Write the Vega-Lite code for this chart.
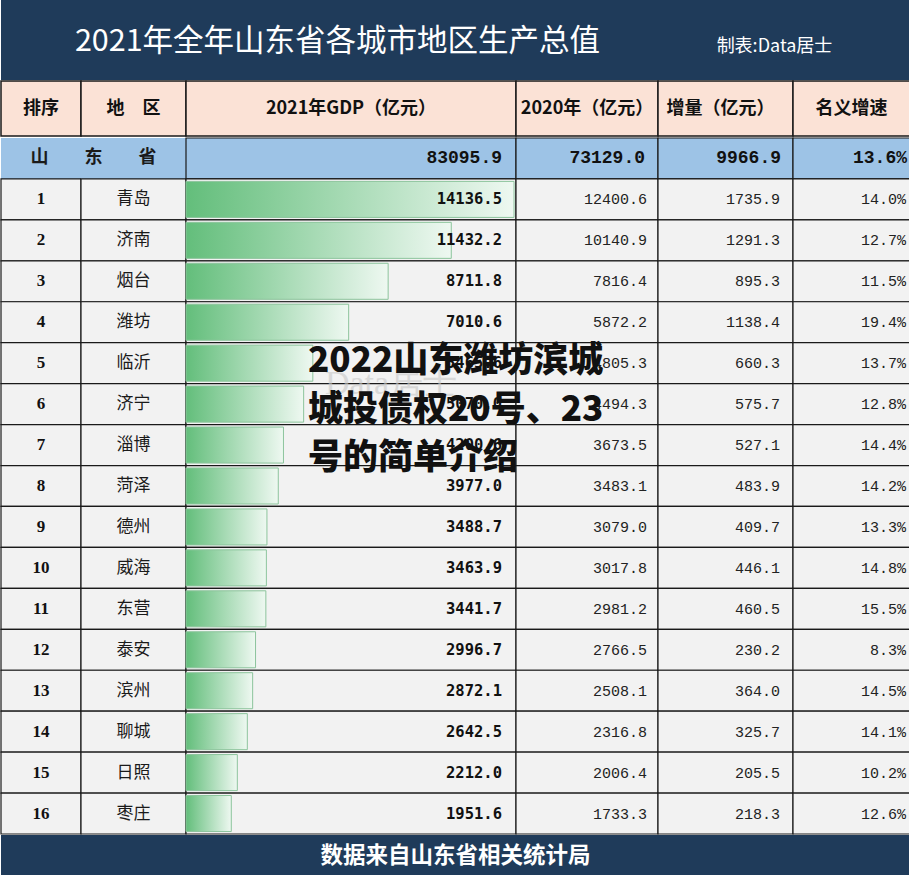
{
  "$schema": "https://vega.github.io/schema/vega-lite/v6.json",
  "background": "#ffffff",
  "padding": 0,
  "spacing": 0,
  "config": {"view": {"stroke": null}, "concat": {"spacing": 0}, "font": "Noto Sans CJK SC"},
  "datasets": {
    "gdp": [
      {"rank": 0, "name": "山东省", "gdp2021": 83095.9, "gdp2020": 73129.0, "inc": 9966.9, "growth": 0.136},
      {"rank": 1, "name": "青岛", "gdp2021": 14136.5, "gdp2020": 12400.6, "inc": 1735.9, "growth": 0.140},
      {"rank": 2, "name": "济南", "gdp2021": 11432.2, "gdp2020": 10140.9, "inc": 1291.3, "growth": 0.127},
      {"rank": 3, "name": "烟台", "gdp2021": 8711.8, "gdp2020": 7816.4, "inc": 895.3, "growth": 0.115},
      {"rank": 4, "name": "潍坊", "gdp2021": 7010.6, "gdp2020": 5872.2, "inc": 1138.4, "growth": 0.194},
      {"rank": 5, "name": "临沂", "gdp2021": 5465.6, "gdp2020": 4805.3, "inc": 660.3, "growth": 0.137},
      {"rank": 6, "name": "济宁", "gdp2021": 5070.0, "gdp2020": 4494.3, "inc": 575.7, "growth": 0.128},
      {"rank": 7, "name": "淄博", "gdp2021": 4200.6, "gdp2020": 3673.5, "inc": 527.1, "growth": 0.144},
      {"rank": 8, "name": "菏泽", "gdp2021": 3977.0, "gdp2020": 3483.1, "inc": 483.9, "growth": 0.142},
      {"rank": 9, "name": "德州", "gdp2021": 3488.7, "gdp2020": 3079.0, "inc": 409.7, "growth": 0.133},
      {"rank": 10, "name": "威海", "gdp2021": 3463.9, "gdp2020": 3017.8, "inc": 446.1, "growth": 0.148},
      {"rank": 11, "name": "东营", "gdp2021": 3441.7, "gdp2020": 2981.2, "inc": 460.5, "growth": 0.155},
      {"rank": 12, "name": "泰安", "gdp2021": 2996.7, "gdp2020": 2766.5, "inc": 230.2, "growth": 0.083},
      {"rank": 13, "name": "滨州", "gdp2021": 2872.1, "gdp2020": 2508.1, "inc": 364.0, "growth": 0.145},
      {"rank": 14, "name": "聊城", "gdp2021": 2642.5, "gdp2020": 2316.8, "inc": 325.7, "growth": 0.141},
      {"rank": 15, "name": "日照", "gdp2021": 2212.0, "gdp2020": 2006.4, "inc": 205.5, "growth": 0.102},
      {"rank": 16, "name": "枣庄", "gdp2021": 1951.6, "gdp2020": 1733.3, "inc": 218.3, "growth": 0.126}
    ]
  },
  "vconcat": [
    {
      "width": 909, "height": 80,
      "view": {"fill": "#1f3b5a", "stroke": null},
      "data": {"values": [{"title": "2021年全年山东省各城市地区生产总值", "maker": "制表:Data居士"}]},
      "layer": [
        {"mark": {"type": "text", "color": "#ffffff", "font": "Noto Sans CJK SC", "fontSize": 30.5, "dx": -118, "dy": 2}, "encoding": {"text": {"field": "title"}}},
        {"mark": {"type": "text", "color": "#ffffff", "font": "Noto Sans CJK SC", "fontSize": 18, "dx": 319, "dy": 7}, "encoding": {"text": {"field": "maker"}}}
      ]
    },
    {
      "hconcat": [
        {"width": 80, "height": 55, "view": {"fill": "#fbe2d6", "stroke": "#1a1a1a", "strokeWidth": 1.5}, "data": {"values": [{"h": "排序"}]}, "mark": {"type": "text", "fontWeight": "bold", "fontSize": 18, "color": "#111111"}, "encoding": {"text": {"field": "h"}}},
        {"width": 105, "height": 55, "view": {"fill": "#fbe2d6", "stroke": "#1a1a1a", "strokeWidth": 1.5}, "data": {"values": [{"h": "地　区"}]}, "mark": {"type": "text", "fontWeight": "bold", "fontSize": 18, "color": "#111111"}, "encoding": {"text": {"field": "h"}}},
        {"width": 330, "height": 55, "view": {"fill": "#fbe2d6", "stroke": "#1a1a1a", "strokeWidth": 1.5}, "data": {"values": [{"h": "2021年GDP（亿元）"}]}, "mark": {"type": "text", "fontWeight": "bold", "fontSize": 18, "color": "#111111"}, "encoding": {"text": {"field": "h"}}},
        {"width": 142, "height": 55, "view": {"fill": "#fbe2d6", "stroke": "#1a1a1a", "strokeWidth": 1.5}, "data": {"values": [{"h": "2020年（亿元）"}]}, "mark": {"type": "text", "fontWeight": "bold", "fontSize": 18, "color": "#111111"}, "encoding": {"text": {"field": "h"}}},
        {"width": 135, "height": 55, "view": {"fill": "#fbe2d6", "stroke": "#1a1a1a", "strokeWidth": 1.5}, "data": {"values": [{"h": "增量（亿元）"}]}, "mark": {"type": "text", "fontWeight": "bold", "fontSize": 18, "color": "#111111", "dx": -5}, "encoding": {"text": {"field": "h"}}},
        {"width": 117, "height": 55, "view": {"fill": "#fbe2d6", "stroke": "#1a1a1a", "strokeWidth": 1.5}, "data": {"values": [{"h": "名义增速"}]}, "mark": {"type": "text", "fontWeight": "bold", "fontSize": 18, "color": "#111111"}, "encoding": {"text": {"field": "h"}}}
      ],
      "spacing": 0,
      "bounds": "flush"
    },
    {
      "hconcat": [
        {
          "width": 80, "height": 696,
          "data": {"name": "gdp"},
          "layer": [
            {"mark": {"type": "rect", "stroke": "#1a1a1a", "strokeWidth": 1.2},
             "encoding": {"y": {"field": "rank", "type": "ordinal", "axis": null, "scale": {"paddingInner": 0, "paddingOuter": 0}},
                          "fill": {"condition": {"test": "datum.rank == 0", "value": "#9dc3e6"}, "value": "#f2f2f2"},
                          "strokeOpacity": {"condition": {"test": "datum.rank == 0", "value": 0}, "value": 1}}},
            {"transform": [{"filter": "datum.rank > 0"}],
             "mark": {"type": "text", "font": "Liberation Serif", "fontWeight": "bold", "fontSize": 17, "color": "#111111"},
             "encoding": {"y": {"field": "rank", "type": "ordinal", "axis": null}, "text": {"field": "rank"}}}
          ]
        },
        {
          "width": 105, "height": 696,
          "data": {"name": "gdp"},
          "layer": [
            {"mark": {"type": "rect", "stroke": "#1a1a1a", "strokeWidth": 1.2},
             "encoding": {"y": {"field": "rank", "type": "ordinal", "axis": null, "scale": {"paddingInner": 0, "paddingOuter": 0}},
                          "fill": {"condition": {"test": "datum.rank == 0", "value": "#9dc3e6"}, "value": "#f2f2f2"},
                          "strokeOpacity": {"condition": {"test": "datum.rank == 0", "value": 0}, "value": 1}}},
            {"transform": [{"filter": "datum.rank > 0"}],
             "mark": {"type": "text", "font": "Noto Sans CJK SC", "fontSize": 17, "color": "#1a1a1a"},
             "encoding": {"y": {"field": "rank", "type": "ordinal", "axis": null}, "text": {"field": "name"}}},
            {"transform": [{"filter": "datum.rank == 0"}],
             "mark": {"type": "text", "text": "山　　东　　省", "font": "Noto Sans CJK SC", "fontWeight": "bold", "fontSize": 18, "color": "#1a1a1a", "dx": -40},
             "encoding": {"y": {"field": "rank", "type": "ordinal", "axis": null}}}
          ]
        },
        {
          "width": 330, "height": 696,
          "data": {"name": "gdp"},
          "layer": [
            {"mark": {"type": "rect", "stroke": "#1a1a1a", "strokeWidth": 1.2},
             "encoding": {"y": {"field": "rank", "type": "ordinal", "axis": null, "scale": {"paddingInner": 0, "paddingOuter": 0}},
                          "fill": {"condition": {"test": "datum.rank == 0", "value": "#9dc3e6"}, "value": "#f2f2f2"}}},
            {"transform": [{"filter": "datum.rank > 0"}],
             "mark": {"type": "bar", "orient": "horizontal", "height": {"band": 0.88},
                      "fill": {"gradient": "linear", "x1": 0, "y1": 0, "x2": 1, "y2": 0, "stops": [{"offset": 0, "color": "#63be7b"}, {"offset": 1, "color": "#eef8f1"}]},
                      "stroke": "#8cc49c", "strokeWidth": 1},
             "encoding": {"y": {"field": "rank", "type": "ordinal", "axis": null},
                          "x": {"field": "gdp2021", "type": "quantitative", "axis": null, "scale": {"domain": [0, 14222], "nice": false, "zero": true}}}},
            {"transform": [{"filter": "datum.rank > 0"}],
             "mark": {"type": "text", "align": "right", "x": "width", "dx": -14, "font": "DejaVu Sans Mono", "fontWeight": "bold", "fontSize": 15.5, "color": "#111111"},
             "encoding": {"y": {"field": "rank", "type": "ordinal", "axis": null}, "text": {"field": "gdp2021", "format": ".1f"}}},
            {"transform": [{"filter": "datum.rank == 0"}],
             "mark": {"type": "text", "align": "right", "x": "width", "dx": -14, "font": "Liberation Mono", "fontWeight": "bold", "fontSize": 18, "color": "#111111"},
             "encoding": {"y": {"field": "rank", "type": "ordinal", "axis": null}, "text": {"field": "gdp2021", "format": ".1f"}}}
          ]
        },
        {
          "width": 142, "height": 696,
          "data": {"name": "gdp"},
          "layer": [
            {"mark": {"type": "rect", "stroke": "#1a1a1a", "strokeWidth": 1.2},
             "encoding": {"y": {"field": "rank", "type": "ordinal", "axis": null, "scale": {"paddingInner": 0, "paddingOuter": 0}},
                          "fill": {"condition": {"test": "datum.rank == 0", "value": "#9dc3e6"}, "value": "#f2f2f2"}}},
            {"transform": [{"filter": "datum.rank > 0"}],
             "mark": {"type": "text", "align": "right", "x": "width", "dx": -11, "font": "Liberation Mono", "fontSize": 15, "color": "#222222"},
             "encoding": {"y": {"field": "rank", "type": "ordinal", "axis": null}, "text": {"field": "gdp2020", "format": ".1f"}}},
            {"transform": [{"filter": "datum.rank == 0"}],
             "mark": {"type": "text", "align": "right", "x": "width", "dx": -13, "font": "Liberation Mono", "fontWeight": "bold", "fontSize": 18, "color": "#111111"},
             "encoding": {"y": {"field": "rank", "type": "ordinal", "axis": null}, "text": {"field": "gdp2020", "format": ".1f"}}},
            {"data": {"values": [{"mark": "Data居士"}]},
             "mark": {"type": "text", "font": "Liberation Serif", "fontSize": 34, "color": "#c8c8c8", "opacity": 0.6, "x": -125, "y": 246},
             "encoding": {"text": {"field": "mark"}}},
            {"data": {"values": [{"lines": ["2022山东潍坊滨城", "城投债权20号、23", "号的简单介绍"]}]},
             "mark": {"type": "text", "align": "left", "baseline": "middle", "lineHeight": 48.5, "font": "Noto Sans CJK SC", "fontWeight": 900, "fontSize": 35, "color": "#111111", "x": -208, "y": 223},
             "encoding": {"text": {"field": "lines"}}}
          ]
        },
        {
          "width": 135, "height": 696,
          "data": {"name": "gdp"},
          "layer": [
            {"mark": {"type": "rect", "stroke": "#1a1a1a", "strokeWidth": 1.2},
             "encoding": {"y": {"field": "rank", "type": "ordinal", "axis": null, "scale": {"paddingInner": 0, "paddingOuter": 0}},
                          "fill": {"condition": {"test": "datum.rank == 0", "value": "#9dc3e6"}, "value": "#f2f2f2"}}},
            {"transform": [{"filter": "datum.rank > 0"}],
             "mark": {"type": "text", "align": "right", "x": "width", "dx": -13, "font": "Liberation Mono", "fontSize": 15, "color": "#222222"},
             "encoding": {"y": {"field": "rank", "type": "ordinal", "axis": null}, "text": {"field": "inc", "format": ".1f"}}},
            {"transform": [{"filter": "datum.rank == 0"}],
             "mark": {"type": "text", "align": "right", "x": "width", "dx": -12, "font": "Liberation Mono", "fontWeight": "bold", "fontSize": 18, "color": "#111111"},
             "encoding": {"y": {"field": "rank", "type": "ordinal", "axis": null}, "text": {"field": "inc", "format": ".1f"}}}
          ]
        },
        {
          "width": 117, "height": 696,
          "data": {"name": "gdp"},
          "layer": [
            {"mark": {"type": "rect", "stroke": "#1a1a1a", "strokeWidth": 1.2},
             "encoding": {"y": {"field": "rank", "type": "ordinal", "axis": null, "scale": {"paddingInner": 0, "paddingOuter": 0}},
                          "fill": {"condition": {"test": "datum.rank == 0", "value": "#9dc3e6"}, "value": "#f2f2f2"}}},
            {"transform": [{"filter": "datum.rank > 0"}],
             "mark": {"type": "text", "align": "right", "x": "width", "dx": -4, "font": "Liberation Mono", "fontSize": 15, "color": "#222222"},
             "encoding": {"y": {"field": "rank", "type": "ordinal", "axis": null}, "text": {"field": "growth", "format": ".1%"}}},
            {"transform": [{"filter": "datum.rank == 0"}],
             "mark": {"type": "text", "align": "right", "x": "width", "dx": -3, "font": "Liberation Mono", "fontWeight": "bold", "fontSize": 18, "color": "#111111"},
             "encoding": {"y": {"field": "rank", "type": "ordinal", "axis": null}, "text": {"field": "growth", "format": ".1%"}}}
          ]
        }
      ],
      "spacing": 0,
      "bounds": "flush"
    },
    {
      "width": 909, "height": 41,
      "view": {"fill": "#1f3b5a", "stroke": null},
      "data": {"values": [{"s": "数据来自山东省相关统计局"}]},
      "mark": {"type": "text", "color": "#ffffff", "font": "Noto Sans CJK SC", "fontWeight": "bold", "fontSize": 22.5},
      "encoding": {"text": {"field": "s"}}
    }
  ]
}
